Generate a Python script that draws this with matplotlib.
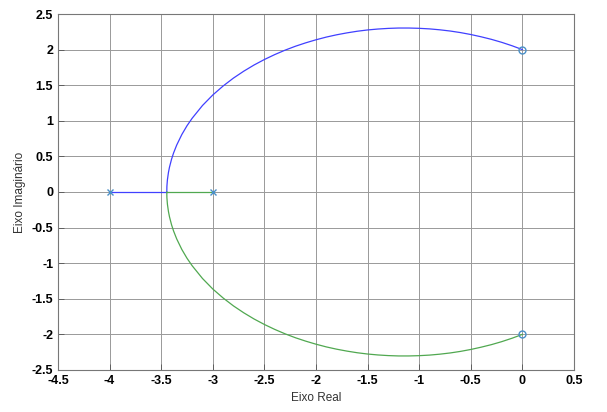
import numpy as np
import matplotlib.pyplot as plt

plt.rcParams['font.family'] = ['Liberation Sans', 'DejaVu Sans']

# open-loop poles and zeros
poles_re = [-4, -3]
poles_im = [0, 0]
zeros_re = [0, 0]
zeros_im = [2, -2]

# upper branch of the locus (lower one is its mirror)
branch_re = [-3.446, -3.445, -3.44, -3.43, -3.42, -3.40, -3.38, -3.35, -3.3, -3.25,
             -3.2, -3.1, -3.0, -2.9, -2.8, -2.7, -2.6, -2.5, -2.4, -2.3, -2.2, -2.1,
             -2.0, -1.9, -1.8, -1.7, -1.6, -1.5, -1.4, -1.3, -1.2, -1.1, -1.0, -0.9,
             -0.8, -0.7, -0.6, -0.5, -0.4, -0.3, -0.2, -0.1, 0.0]
branch_im = [0.0, 0.079, 0.171, 0.274, 0.348, 0.460, 0.549, 0.659, 0.808, 0.931,
             1.036, 1.215, 1.363, 1.489, 1.600, 1.697, 1.784, 1.861, 1.930, 1.992,
             2.047, 2.095, 2.138, 2.176, 2.208, 2.235, 2.258, 2.276, 2.289, 2.298,
             2.303, 2.303, 2.299, 2.291, 2.278, 2.261, 2.239, 2.212, 2.180, 2.144,
             2.102, 2.054, 2.0]
breakaway = -3.446

xticks = [-4.5, -4, -3.5, -3, -2.5, -2, -1.5, -1, -0.5, 0, 0.5]
yticks = [-2.5, -2, -1.5, -1, -0.5, 0, 0.5, 1, 1.5, 2, 2.5]

blue = '#4040ff'
green = '#50a850'
mk = '#4a90c8'

fig = plt.figure(figsize=(6.07, 4.12), dpi=100)
ax = fig.add_axes([0.0956, 0.102, 0.85, 0.864])

re = np.array(branch_re)
im = np.array(branch_im)
ax.plot([poles_re[0], breakaway], [0, 0], color=blue, lw=0.9)
ax.plot(re, im, color=blue, lw=0.9)
ax.plot([poles_re[1], breakaway], [0, 0], color=green, lw=0.9)
ax.plot(re, -im, color=green, lw=0.9)

ax.plot(poles_re, poles_im, 'x', color=mk, ms=4, mew=1)
ax.plot(zeros_re, zeros_im, 'o', color=mk, ms=5, mfc='none', mew=1)

ax.set_xlim(-4.5, 0.5)
ax.set_ylim(-2.5, 2.5)
ax.set_xticks(xticks)
ax.set_yticks(yticks)
ax.set_xticklabels([f'{t:g}' for t in xticks], fontweight='bold', fontsize=9)
ax.set_yticklabels([f'{t:g}' for t in yticks], fontweight='bold', fontsize=9)
ax.tick_params(direction='in', length=4, width=0.6, color='#555555')
ax.grid(True, color='#999999', lw=0.7)
for s in ax.spines.values():
    s.set_color('#777777')
    s.set_linewidth(0.8)

ax.set_xlabel('Eixo Real', fontsize=8.5, color='#333333')
ax.set_ylabel('Eixo Imaginário', fontsize=8.5, color='#333333')

plt.savefig('out.png', dpi=100)
